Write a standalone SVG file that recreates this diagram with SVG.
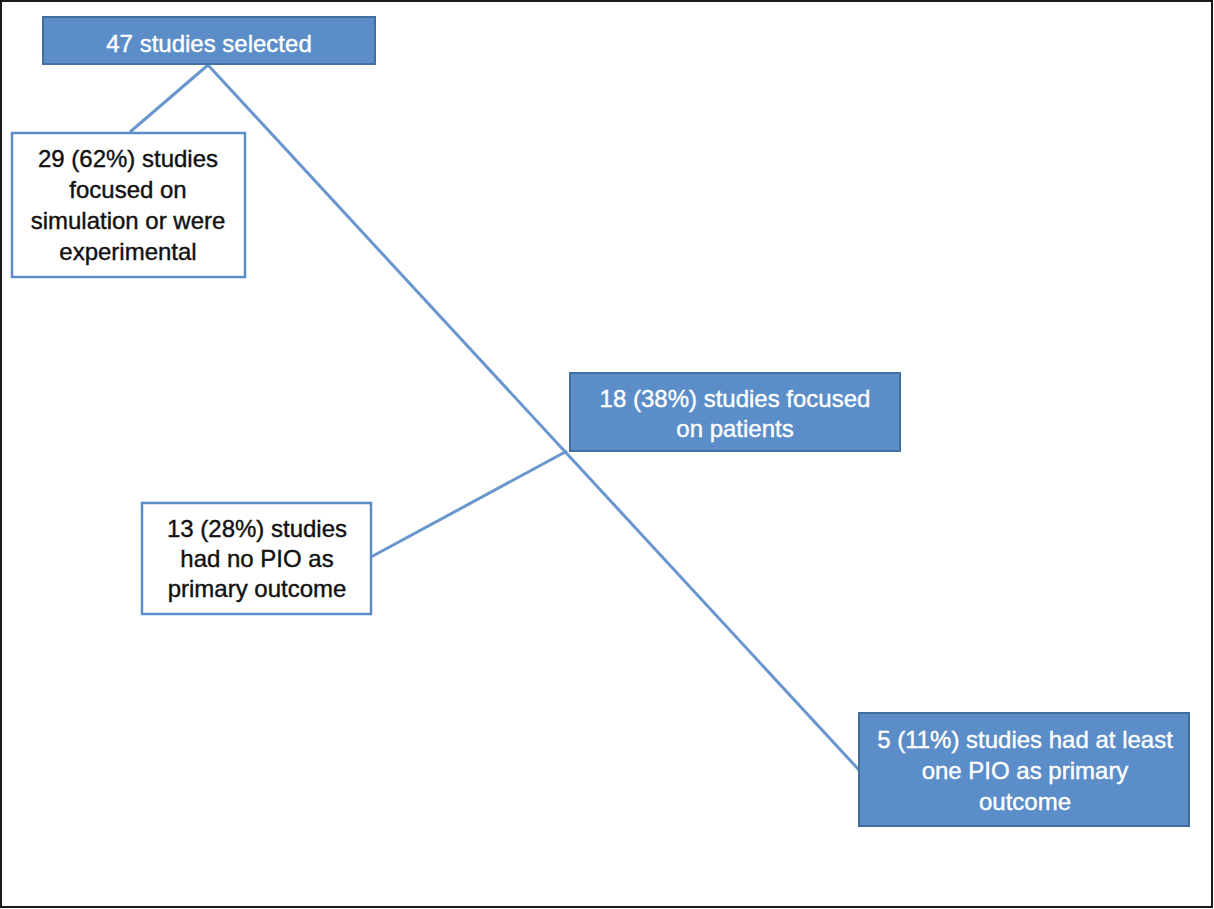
<svg xmlns="http://www.w3.org/2000/svg" width="1214" height="909" viewBox="0 0 1214 909">
<style>
.frame{fill:#fff;stroke:#1a1a1a;stroke-width:2}
.blue rect{fill:#5b8dc8;stroke:#41709e;stroke-width:2}
.white rect{fill:#fff;stroke:#5b8dc8;stroke-width:2.5}
text{font-family:"Liberation Sans",Arial,sans-serif;font-size:24px;text-anchor:middle}
.blue text{fill:#fff;stroke:#fff;stroke-width:0.4}
.white text{fill:#111;stroke:#111;stroke-width:0.4}
.conn line{stroke:#6896cd;stroke-width:3;fill:none}
</style>
<rect class="frame" x="1" y="1" width="1211" height="906"/>
<g class="conn" id="connectors">
<line x1="208" y1="65" x2="130" y2="132"/>
<line x1="208" y1="65" x2="859" y2="770"/>
<line x1="371" y1="557" x2="567" y2="451"/>
</g>
<g id="n47" class="blue">
<rect x="43" y="17" width="332" height="47"/>
<text x="209" y="52">47 studies selected</text>
</g>
<g id="n29" class="white">
<rect x="12" y="133" width="233" height="144"/>
<text x="128" y="167">29 (62%) studies</text>
<text x="128" y="198">focused on</text>
<text x="128" y="229">simulation or were</text>
<text x="128" y="260">experimental</text>
</g>
<g id="n18" class="blue">
<rect x="570" y="373" width="330" height="78"/>
<text x="735" y="407">18 (38%) studies focused</text>
<text x="735" y="437">on patients</text>
</g>
<g id="n13" class="white">
<rect x="142" y="503" width="229" height="111"/>
<text x="257" y="537">13 (28%) studies</text>
<text x="257" y="567">had no PIO as</text>
<text x="257" y="597">primary outcome</text>
</g>
<g id="n5" class="blue">
<rect x="859" y="713" width="330" height="113"/>
<text x="1025" y="748">5 (11%) studies had at least</text>
<text x="1025" y="779">one PIO as primary</text>
<text x="1025" y="810">outcome</text>
</g>
</svg>
